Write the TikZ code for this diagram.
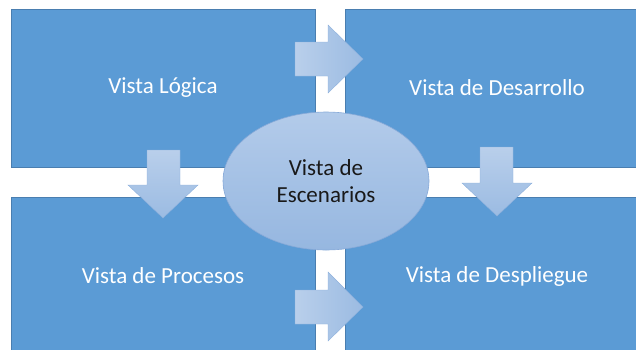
\documentclass[tikz,border=0pt]{standalone}
\usepackage{fontspec}
\setmainfont{Carlito}
\usetikzlibrary{shapes.geometric}
\definecolor{boxblue}{HTML}{5B9BD5}
\definecolor{boxedge}{HTML}{4A7EB0}
\definecolor{arrlight}{HTML}{B9CFEB}
\definecolor{arrdark}{HTML}{9BBBE2}
\definecolor{arredge}{HTML}{8DB0DC}
\definecolor{elltop}{HTML}{B3CBEA}
\definecolor{ellbot}{HTML}{96B7E0}
\definecolor{elledge}{HTML}{86A9D8}
\tikzset{
  viewbox/.style={rectangle, fill=boxblue, draw=boxedge, line width=0.6pt,
    minimum width=304pt, minimum height=158pt, inner sep=0pt,
    text=white, font=\fontsize{23}{27}\selectfont},
  rightarrow/.style={left color=arrlight, right color=arrdark, draw=arredge, line width=0.4pt},
  downarrow/.style={top color=arrlight, bottom color=arrdark, draw=arredge, line width=0.4pt},
  scenario/.style={ellipse, top color=elltop, bottom color=ellbot, draw=elledge, line width=0.6pt,
    minimum width=206pt, minimum height=138pt, inner sep=0pt, align=center,
    text=black!90, font=\fontsize{23}{27}\selectfont}
}
\begin{document}
\begin{tikzpicture}[x=1pt,y=-1pt]
\useasboundingbox (0,0) rectangle (636,349);
\clip (0,0) rectangle (636,349);
\node[viewbox] (logica) at (163,88) {Vista Lógica};
\node[viewbox] (desarrollo) at (497,88) {Vista de Desarrollo};
\node[viewbox] (procesos) at (163,276) {Vista de Procesos};
\node[viewbox] (despliegue) at (497,276) {Vista de Despliegue};
% right arrow top
\path[rightarrow] (295,42) -- (328,42) -- (328,25) -- (363,59) -- (328,93) -- (328,76) -- (295,76) -- cycle;
% right arrow bottom
\path[rightarrow] (295,290) -- (328,290) -- (328,272) -- (363,307) -- (328,341) -- (328,324) -- (295,324) -- cycle;
% down arrow left
\path[downarrow] (147,150) -- (180,150) -- (180,185) -- (198,185) -- (163,218) -- (128,185) -- (147,185) -- cycle;
% down arrow right
\path[downarrow] (480,147) -- (513,147) -- (513,183) -- (532,183) -- (497,216) -- (462,183) -- (480,183) -- cycle;
\node[scenario] (escenarios) at (326,181) {Vista de\\Escenarios};
\end{tikzpicture}
\end{document}
